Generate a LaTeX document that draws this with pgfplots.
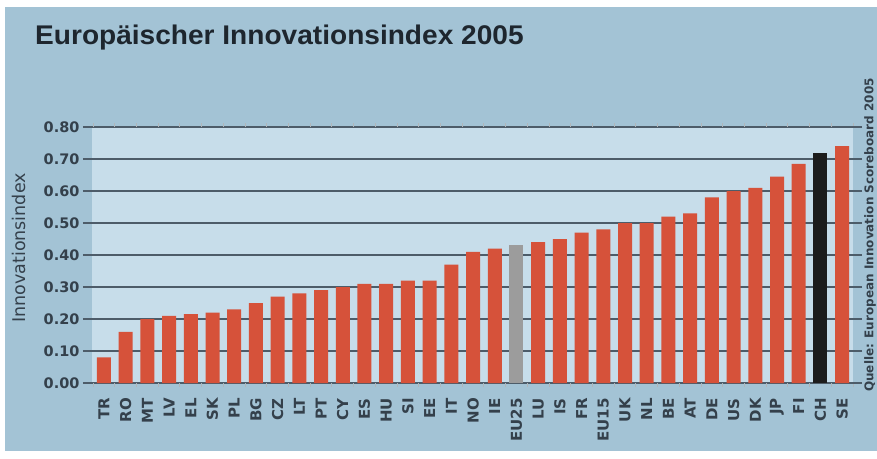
\documentclass[border=0pt]{standalone}
\usepackage{fontspec}
\setmainfont{DejaVu Sans}
\newfontfamily\titlefont[FakeStretch=1.04]{Liberation Sans}
\usepackage{pgfplots}
\pgfplotsset{compat=1.18}

\definecolor{panel}{HTML}{A3C3D5}
\definecolor{plotbg}{HTML}{C7DDEA}
\definecolor{gridc}{HTML}{4D5C69}
\definecolor{barred}{HTML}{D6523A}
\definecolor{bargray}{HTML}{9C9C9C}
\definecolor{barblack}{HTML}{1C1C1C}
\definecolor{textc}{HTML}{34404B}
\definecolor{titlec}{HTML}{1E262E}

\begin{document}
\begin{tikzpicture}
\fill[white] (0pt,0pt) rectangle (877pt,458pt);
\fill[panel] (5pt,7pt) rectangle (877pt,451pt);
\path[use as bounding box] (0pt,0pt) rectangle (877pt,458pt);

\node[anchor=base west, text=titlec, inner sep=0pt,
      font=\titlefont\bfseries\fontsize{27}{30}\selectfont]
  at (35pt,413pt) {Europäischer Innovationsindex 2005};

\node[rotate=90, text=textc, font=\bfseries\fontsize{12}{13}\selectfont]
  at (870pt,223pt) {Quelle: European Innovation Scoreboard 2005};

\begin{axis}[
    at={(92pt,75pt)}, anchor=south west,
    scale only axis,
    width=761pt, height=256pt,
    ybar, bar width=14pt, bar shift=0pt,
    xmin=-0.55, xmax=34.5,
    ymin=0, ymax=0.8,
    axis background/.style={fill=plotbg},
    axis line style={draw=none},
    xtick={0,...,34},
    xticklabels={TR,RO,MT,LV,EL,SK,PL,BG,CZ,LT,PT,CY,ES,HU,SI,EE,IT,NO,IE,EU25,LU,IS,FR,EU15,UK,NL,BE,AT,DE,US,DK,JP,FI,CH,SE},
    x tick style={draw=none},
    minor xtick={-0.5,0.5,...,34.5},
    minor x tick style={draw=gridc!45, line width=1pt},
    minor tick length=4pt,
    xticklabel style={yshift=-6pt, rotate=90, anchor=east, inner sep=0pt,
                      font=\bfseries\fontsize{15}{16}\selectfont, text=textc},
    ytick={0,0.1,0.2,0.3,0.4,0.5,0.6,0.7,0.8},
    y tick style={draw=gridc, line width=1.4pt},
    major tick length=9pt,
    tick align=outside,
    /pgf/number format/assume math mode=true,
    yticklabel style={/pgf/number format/.cd, fixed, fixed zerofill, precision=2,
                      /tikz/.cd, font=\bfseries\fontsize{14.5}{16}\selectfont, text=textc},
    ymajorgrids,
    grid style={draw=gridc, line width=1.4pt},
    ylabel={Innovationsindex},
    ylabel style={at={(axis description cs:0,0.5)}, anchor=center,
                  yshift=73pt, xshift=7pt,
                  font=\fontsize{17.5}{18}\selectfont, text=textc},
]
\addplot[fill=barred, draw=none] coordinates {
    (0,0.08) (1,0.16) (2,0.20) (3,0.21) (4,0.215) (5,0.22) (6,0.23) (7,0.25)
    (8,0.27) (9,0.28) (10,0.29) (11,0.30) (12,0.31) (13,0.31) (14,0.32)
    (15,0.32) (16,0.37) (17,0.41) (18,0.42) (20,0.44) (21,0.45) (22,0.47)
    (23,0.48) (24,0.50) (25,0.50) (26,0.52) (27,0.53) (28,0.58) (29,0.60)
    (30,0.61) (31,0.645) (32,0.685) (34,0.74)};
\addplot[fill=bargray, draw=none] coordinates {(19,0.43)};
\addplot[fill=barblack, draw=none] coordinates {(33,0.72)};
\end{axis}
\end{tikzpicture}
\end{document}
